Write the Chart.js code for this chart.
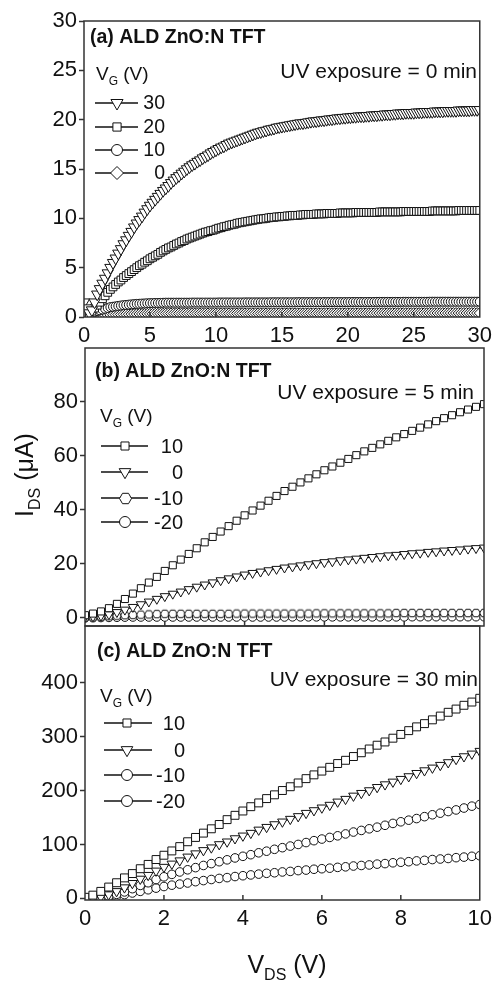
<!DOCTYPE html>
<html><head><meta charset="utf-8">
<script src="https://cdn.jsdelivr.net/npm/chart.js@4.4.0/dist/chart.umd.min.js"></script>
<style>
html,body{margin:0;padding:0;background:#fff;width:498px;height:984px;overflow:hidden;position:relative;}
canvas{position:absolute;left:0;}
</style></head><body>
<canvas id="ca" style="top:0px" width="498" height="346"></canvas>
<canvas id="cb" style="top:332px" width="498" height="310"></canvas>
<canvas id="cc" style="top:610px" width="498" height="374"></canvas>
<script>
// ---------- DATA ----------
// Panel (a): UV exposure = 0 min, VDS sweep 0..30 V (0.2 V step)
const vdsA = Array.from({length:151}, (_, i) => +(i * 0.2).toFixed(1));
const idsA_30 = [1.5,0.9,0.4,0.7,1.5,2.3,
2.85,3.4,3.9,4.45,5.0, 5.5,5.95,6.45,6.9,7.4, 7.8,8.25,8.65,9.1,9.5, 9.85,10.2,10.6,10.95,11.3,
11.6,11.9,12.2,12.5,12.8, 13.05,13.3,13.6,13.85,14.1, 14.3,14.55,14.75,15.0,15.2, 15.4,15.55,15.75,15.9,16.1,
16.25,16.4,16.6,16.75,16.9, 17.05,17.2,17.3,17.45,17.6, 17.7,17.8,17.9,18.0,18.1, 18.2,18.3,18.4,18.5,18.6,
18.7,18.75,18.85,18.9,19.0, 19.05,19.1,19.2,19.25,19.3, 19.35,19.4,19.45,19.5,19.55, 19.6,19.65,19.65,19.7,19.75,
19.8,19.85,19.85,19.9,19.95, 19.95,20.0,20.05,20.05,20.1, 20.15,20.15,20.2,20.2,20.25, 20.25,20.3,20.3,20.35,20.35,
20.35,20.4,20.4,20.45,20.45, 20.45,20.5,20.5,20.55,20.55, 20.55,20.6,20.6,20.65,20.65, 20.65,20.7,20.7,20.7,20.7,
20.75,20.75,20.75,20.8,20.8, 20.8,20.8,20.85,20.85,20.85, 20.85,20.9,20.9,20.9,20.9, 20.9,20.95,20.95,20.95,20.95,
20.95,21.0,21.0,21.0,21.0];
const idsA_20 = [0,0.15,0.35,0.6,0.9,1.2,
1.5,1.85,2.15,2.5,2.8, 3.05,3.3,3.55,3.75,4.0, 4.2,4.4,4.6,4.8,5.0, 5.2,5.35,5.55,5.7,5.9,
6.05,6.2,6.35,6.55,6.7, 6.85,7.0,7.1,7.25,7.4, 7.5,7.65,7.75,7.9,8.0, 8.1,8.2,8.3,8.4,8.5,
8.6,8.65,8.75,8.8,8.9, 9.0,9.05,9.15,9.2,9.3, 9.35,9.4,9.5,9.55,9.6, 9.65,9.7,9.75,9.8,9.85,
9.9,9.95,9.95,10.0,10.05, 10.1,10.1,10.15,10.15,10.2, 10.2,10.25,10.25,10.3,10.3, 10.3,10.35,10.35,10.4,10.4,
10.4,10.4,10.45,10.45,10.45, 10.45,10.5,10.5,10.5,10.5, 10.5,10.55,10.55,10.55,10.55, 10.55,10.55,10.6,10.6,10.6,
10.6,10.6,10.6,10.6,10.6, 10.6,10.65,10.65,10.65,10.65, 10.65,10.65,10.65,10.65,10.65, 10.7,10.7,10.7,10.7,10.7,
10.7,10.7,10.7,10.7,10.7, 10.7,10.75,10.75,10.75,10.75, 10.75,10.75,10.75,10.75,10.75, 10.75,10.8,10.8,10.8,10.8,
10.8,10.8,10.8,10.8,10.8];
const idsA_10 = [0,0.12,0.24,0.36,0.48,0.6,
0.68,0.76,0.84,0.92,1.0, 1.04,1.08,1.12,1.16,1.2, 1.22,1.25,1.28,1.3,1.33, 1.34,1.36,1.37,1.39,1.4, 1.41,1.42,1.42,1.43,1.44,
1.45,1.45,1.45,1.45,1.45,1.45,1.45,1.45,1.45,1.45, 1.46,1.46,1.46,1.46,1.46,1.46,1.46,1.46,1.46,1.46,
1.47,1.47,1.47,1.47,1.47,1.47,1.47,1.47,1.47,1.47, 1.48,1.48,1.48,1.48,1.48,1.48,1.48,1.48,1.48,1.48,
1.49,1.49,1.49,1.49,1.49,1.49,1.49,1.49,1.49,1.49, 1.50,1.50,1.50,1.50,1.50,1.50,1.50,1.50,1.50,1.50,
1.51,1.51,1.51,1.51,1.51,1.51,1.51,1.51,1.51,1.51, 1.52,1.52,1.52,1.52,1.52,1.52,1.52,1.52,1.52,1.52,
1.53,1.53,1.53,1.53,1.53,1.53,1.53,1.53,1.53,1.53, 1.54,1.54,1.54,1.54,1.54,1.54,1.54,1.54,1.54,1.54,
1.55,1.55,1.55,1.55,1.55,1.55,1.55,1.55,1.55,1.55, 1.55,1.55,1.55,1.55,1.55,1.55,1.55,1.55,1.55,1.55];
const idsA_0 = [0,0.03,0.05,0.08,0.1,0.13,
0.15,0.17,0.19,0.2,0.22, 0.23,0.24,0.25,0.26,0.27, 0.28,0.28,0.29,0.3,0.3,
0.31,0.31,0.31,0.32,0.32,0.32,0.33,0.33,0.34,0.34,
0.35,0.35,0.35,0.35,0.35,0.35,0.35,0.35,0.35,0.35,0.35,0.35,0.35,0.35,0.35,0.35,0.35,0.35,0.35,0.35,
0.36,0.36,0.36,0.36,0.36,0.36,0.36,0.36,0.36,0.36,0.36,0.36,0.36,0.36,0.36,0.36,0.36,0.36,0.36,0.36,
0.37,0.37,0.37,0.37,0.37,0.37,0.37,0.37,0.37,0.37,0.37,0.37,0.37,0.37,0.37,0.37,0.37,0.37,0.37,0.37,
0.38,0.38,0.38,0.38,0.38,0.38,0.38,0.38,0.38,0.38,0.38,0.38,0.38,0.38,0.38,0.38,0.38,0.38,0.38,0.38,
0.39,0.39,0.39,0.39,0.39,0.39,0.39,0.39,0.39,0.39,0.39,0.39,0.39,0.39,0.39,0.39,0.39,0.39,0.39,0.39,
0.40,0.40,0.40,0.40,0.40,0.40,0.40,0.40,0.40,0.40,0.40,0.40,0.40,0.40,0.40,0.40,0.40,0.40,0.40,0.40];

// Panels (b), (c): VDS sweep 0..10 V (0.2 V step)
const vdsBC = Array.from({length:51}, (_, i) => +(i * 0.2).toFixed(1));
// (b) UV exposure = 5 min
const idsB_10 = [1.0,1.6,2.4,3.6,5.2,7.0,9.0,11.0,13.1,15.2,17.4,19.5,21.6,23.7,25.8,28.0,30.0,32.0,34.0,36.0,38.0,39.8,41.6,43.4,45.2,47.0,48.6,50.2,51.7,53.2,54.7,56.1,57.5,58.9,60.3,61.7,63.0,64.3,65.6,66.9,68.1,69.3,70.5,71.7,72.9,74.0,75.1,76.2,77.2,78.2,79.2];
const idsB_0 = [0.3,0.5,0.8,1.3,2.1,3.0,4.0,5.0,6.0,7.0,8.0,8.9,9.7,10.6,11.5,12.3,13.1,13.9,14.6,15.3,16.0,16.6,17.1,17.6,18.1,18.6,19.0,19.4,19.8,20.2,20.6,20.9,21.3,21.6,21.9,22.2,22.5,22.8,23.1,23.3,23.6,23.9,24.1,24.4,24.6,24.9,25.1,25.3,25.6,25.8,26.0];
const idsB_m10 = [0,0.2,0.4,0.6,0.8,1.0,1.1,1.2,1.3,1.4,1.5,1.5,1.5,1.5,1.5,1.5,1.5,1.5,1.5,1.6,1.6,1.6,1.6,1.6,1.6,1.6,1.6,1.6,1.6,1.7,1.7,1.7,1.7,1.7,1.7,1.7,1.7,1.7,1.7,1.8,1.8,1.8,1.8,1.8,1.8,1.8,1.8,1.8,1.8,1.8,1.8];
const idsB_m20 = [0,0.05,0.1,0.15,0.2,0.25,0.3,0.3,0.3,0.3,0.3,0.3,0.3,0.3,0.3,0.3,0.3,0.3,0.3,0.3,0.3,0.3,0.3,0.3,0.3,0.3,0.35,0.35,0.35,0.35,0.35,0.35,0.35,0.35,0.35,0.35,0.35,0.35,0.35,0.35,0.35,0.4,0.4,0.4,0.4,0.4,0.4,0.4,0.4,0.4,0.4];
// (c) UV exposure = 30 min
const idsC_10 = [2,6,13,21,29,38,46,55,63,72,80,88,96,105,113,121,129,137,146,154,162,170,177,185,192,200,207,214,222,229,236,243,250,256,263,270,277,284,290,297,304,311,318,324,331,338,345,351,358,364,371];
const idsC_0 = [0,1,3,7,13,20,28,36,43,51,58,64,70,77,83,89,94,100,105,111,116,121,127,132,137,142,147,152,158,163,168,173,179,184,190,195,200,206,211,216,221,226,232,237,242,247,252,258,263,268,273];
const idsC_m10 = [0,0.5,1.5,4,7.5,12,18,24,29,35,40,44.5,49,53,57,61,64.5,68,71.5,75,78,81,84.5,87.5,91,94,97,100,103.5,107,110,113,116,119.5,123,126,129,132,135.5,139,142,145,148,151.5,155,158,161,164,167.5,171,174];
const idsC_m20 = [0,0.3,0.8,2,4,7,10,13,16,19,22,24.5,26.5,28.5,31,33,35,37,38.5,40.5,42,43.5,45,46.5,47.5,49,50,51.5,52.5,54,55,56,57.5,58.5,60,61,62,63.5,64.5,66,67,68,69.5,70.5,72,73,74,75.5,76.5,78,79];

// Legend labels (gate voltages)
const vgA = ['30','20','10','0'];
const vgB = ['10','0','-10','-20'];
const vgC = ['10','0','-10','-20'];

// Tick labels
const xTicksA = [0,5,10,15,20,25,30];
const yTicksA = [0,5,10,15,20,25,30];
const xTicksBC = [0,2,4,6,8,10];
const yTicksB = [0,20,40,60,80];
const yTicksC = [0,100,200,300,400];

// ---------- STYLE ----------
const FONT = "'Liberation Sans', Arial, Helvetica, sans-serif";
const INK = '#111';
const FRAME = '#333';
const TICK_FS = 22;

function hexMarker(r){
  const s = Math.ceil(2*r + 3);
  const c = document.createElement('canvas'); c.width = s; c.height = s;
  const g = c.getContext('2d');
  g.beginPath();
  for (let i = 0; i < 6; i++){
    const a = Math.PI/3*i;
    const px = s/2 + r*Math.cos(a), py = s/2 + r*Math.sin(a);
    if (i) g.lineTo(px, py); else g.moveTo(px, py);
  }
  g.closePath(); g.fillStyle = '#fff'; g.fill();
  g.lineWidth = 1; g.strokeStyle = INK; g.stroke();
  return c;
}

function drawMarker(ctx, m, x, y){
  if (m.style instanceof HTMLCanvasElement){
    ctx.drawImage(m.style, Math.round(x - m.style.width/2), Math.round(y - m.style.height/2));
    return;
  }
  ctx.save();
  ctx.fillStyle = '#fff'; ctx.strokeStyle = INK; ctx.lineWidth = 1;
  Chart.helpers.drawPoint(ctx, {pointStyle: m.style, radius: m.r, rotation: m.rot || 0, borderWidth: 1}, x, y);
  ctx.restore();
}

function series(label, xs, ys, m){
  return {
    label, data: xs.map((x, i) => ({x, y: ys[i]})),
    showLine: true, borderColor: INK, borderWidth: 1, tension: 0,
    pointStyle: m.style, pointRadius: m.r, pointRotation: m.rot || 0,
    pointBackgroundColor: '#fff', pointBorderColor: INK, pointBorderWidth: 1,
    pointHoverRadius: m.r
  };
}

function textWithSub(ctx, x, y, main, sub, rest, size, subSize, align){
  ctx.font = size + 'px ' + FONT;
  const w1 = ctx.measureText(main).width;
  ctx.font = subSize + 'px ' + FONT;
  const w2 = ctx.measureText(sub).width;
  ctx.font = size + 'px ' + FONT;
  const w3 = ctx.measureText(rest).width;
  let sx = x;
  if (align === 'center') sx = x - (w1 + w2 + w3)/2;
  ctx.textAlign = 'left'; ctx.textBaseline = 'alphabetic';
  ctx.fillText(main, sx, y);
  ctx.font = subSize + 'px ' + FONT;
  ctx.fillText(sub, sx + w1, y + size*0.28);
  ctx.font = size + 'px ' + FONT;
  ctx.fillText(rest, sx + w1 + w2, y);
}

function decoPlugin(cfg){
  return {
    id: 'deco',
    afterDraw(chart){
      const ctx = chart.ctx, a = chart.chartArea, T = cfg.top;
      ctx.save();
      // inner x ticks
      ctx.strokeStyle = FRAME; ctx.lineWidth = 1.5;
      cfg.innerX.forEach(v => {
        const px = chart.scales.x.getPixelForValue(v);
        ctx.beginPath(); ctx.moveTo(px, a.bottom); ctx.lineTo(px, a.bottom - 5); ctx.stroke();
      });
      // frame
      ctx.strokeRect(a.left, a.top, a.right - a.left, a.bottom - a.top);
      ctx.fillStyle = INK;
      // panel title
      ctx.font = 'bold 19.5px ' + FONT; ctx.textAlign = 'left'; ctx.textBaseline = 'middle';
      ctx.fillText(cfg.title, cfg.titleX, cfg.titleY - T);
      // UV exposure text
      ctx.font = '21px ' + FONT; ctx.textAlign = 'right';
      ctx.fillText(cfg.uv, cfg.uvX, cfg.uvY - T);
      // legend header V_G (V)
      textWithSub(ctx, cfg.lg.vgX, cfg.lg.vgY - T, 'V', 'G', ' (V)', 19, 12, 'left');
      // legend rows
      cfg.lg.items.forEach((it, i) => {
        const y = cfg.lg.rows[i] - T;
        ctx.strokeStyle = INK; ctx.lineWidth = 1.5;
        ctx.beginPath(); ctx.moveTo(cfg.lg.x1, y); ctx.lineTo(cfg.lg.x2, y); ctx.stroke();
        drawMarker(ctx, it.m, cfg.lg.mx, y);
        ctx.fillStyle = INK; ctx.font = cfg.lg.fs + 'px ' + FONT; ctx.textAlign = 'right'; ctx.textBaseline = 'middle';
        ctx.fillText(it.t, cfg.lg.lx, y + 1);
      });
      if (cfg.extra) cfg.extra(ctx, T);
      ctx.restore();
    }
  };
}

function makeChart(id, cfg){
  const el = document.getElementById(id);
  return new Chart(el, {
    type: 'scatter',
    data: {datasets: cfg.datasets},
    options: {
      responsive: false, animation: false, events: [],
      layout: {autoPadding: false, padding: {top: cfg.padTop, right: cfg.padRight, left: 0, bottom: 0}},
      plugins: {legend: {display: false}, tooltip: {enabled: false}},
      scales: {
        x: {
          type: 'linear', min: cfg.xMin, max: cfg.xMax,
          afterBuildTicks: s => { s.ticks = cfg.xTicks.map(v => ({value: v})); },
          afterFit: s => { s.height = cfg.xHeight; },
          grid: {display: false, drawTicks: false}, border: {display: false},
          ticks: {display: cfg.xLabels, font: {family: FONT, size: TICK_FS}, color: INK, padding: cfg.xPad, maxRotation: 0, autoSkip: false}
        },
        y: {
          type: 'linear', min: cfg.yMin, max: cfg.yMax,
          afterBuildTicks: s => { s.ticks = cfg.yTicks.map(v => ({value: v})); },
          afterFit: s => { s.width = cfg.yWidth; },
          grid: {display: true, drawOnChartArea: false, drawTicks: true, tickLength: 5, tickWidth: 1.5, tickColor: FRAME},
          border: {display: false},
          ticks: {font: {family: FONT, size: TICK_FS}, color: INK, padding: 2, autoSkip: false}
        }
      }
    },
    plugins: [decoPlugin(cfg.deco)]
  });
}

// markers
const mA = {
  tri: {style: 'triangle', r: 6.5, rot: 180},
  sq: {style: 'rect', r: 5.5},
  cir: {style: 'circle', r: 4.5},
  dia: {style: 'rectRot', r: 5.5}
};
const mAL = {
  tri: {style: 'triangle', r: 7, rot: 180},
  sq: {style: 'rect', r: 5.8},
  cir: {style: 'circle', r: 5.5},
  dia: {style: 'rectRot', r: 6.5}
};
const mB = {
  sq: {style: 'rect', r: 5},
  tri: {style: 'triangle', r: 5.3, rot: 180},
  hex: {style: hexMarker(4.3), r: 4.3},
  cir: {style: 'circle', r: 4.2}
};
const mBL = {
  sq: {style: 'rect', r: 5.7},
  tri: {style: 'triangle', r: 6.7, rot: 180},
  hex: {style: hexMarker(6), r: 6},
  cir: {style: 'circle', r: 5.5}
};
const mC = {
  sq: {style: 'rect', r: 5.6},
  tri: {style: 'triangle', r: 5.5, rot: 180},
  cir: {style: 'circle', r: 4.3}
};
const mCL = {
  sq: {style: 'rect', r: 5.7},
  tri: {style: 'triangle', r: 6.7, rot: 180},
  cir: {style: 'circle', r: 5.5}
};

// ---------- CHART (a) ----------
makeChart('ca', {
  datasets: [
    series(vgA[0], vdsA, idsA_30, mA.tri),
    series(vgA[1], vdsA, idsA_20, mA.sq),
    series(vgA[2], vdsA, idsA_10, mA.cir),
    series(vgA[3], vdsA, idsA_0, mA.dia)
  ],
  padTop: 21, padRight: 16, xHeight: 29, yWidth: 84, xPad: 6, xLabels: true,
  xMin: 0, xMax: 30, yMin: 0, yMax: 30, xTicks: xTicksA, yTicks: yTicksA,
  deco: {
    top: 0, innerX: xTicksA.slice(1, -1),
    title: '(a) ALD ZnO:N TFT', titleX: 90, titleY: 38,
    uv: 'UV exposure = 0 min', uvX: 477, uvY: 72,
    lg: {vgX: 96, vgY: 80, rows: [103, 127, 150, 173], x1: 95, x2: 138, mx: 117, lx: 165, fs: 19.5,
      items: [{m: mAL.tri, t: vgA[0]}, {m: mAL.sq, t: vgA[1]}, {m: mAL.cir, t: vgA[2]}, {m: mAL.dia, t: vgA[3]}]}
  }
});

// ---------- CHART (b) ----------
makeChart('cb', {
  datasets: [
    series(vgB[0], vdsBC, idsB_10, mB.sq),
    series(vgB[1], vdsBC, idsB_0, mB.tri),
    series(vgB[2], vdsBC, idsB_m10, mB.hex),
    series(vgB[3], vdsBC, idsB_m20, mB.cir)
  ],
  padTop: 16, padRight: 14, xHeight: 16, yWidth: 85, xPad: 0, xLabels: false,
  xMin: 0, xMax: 10, yMin: -3, yMax: 100, xTicks: xTicksBC, yTicks: yTicksB,
  deco: {
    top: 332, innerX: xTicksBC.slice(1, -1),
    title: '(b) ALD ZnO:N TFT', titleX: 95, titleY: 372,
    uv: 'UV exposure = 5 min', uvX: 474, uvY: 393,
    lg: {vgX: 100, vgY: 422, rows: [446, 472, 498, 522], x1: 101, x2: 148, mx: 125, lx: 183, fs: 20,
      items: [{m: mBL.sq, t: vgB[0]}, {m: mBL.tri, t: vgB[1]}, {m: mBL.hex, t: vgB[2]}, {m: mBL.cir, t: vgB[3]}]},
    extra: (ctx, T) => {
      ctx.save();
      ctx.translate(33, 475 - T);
      ctx.rotate(-Math.PI/2);
      ctx.fillStyle = INK;
      textWithSub(ctx, 0, 0, 'I', 'DS', ' (\u03bcA)', 25, 16, 'center');
      ctx.restore();
    }
  }
});

// ---------- CHART (c) ----------
makeChart('cc', {
  datasets: [
    series(vgC[0], vdsBC, idsC_10, mC.sq),
    series(vgC[1], vdsBC, idsC_0, mC.tri),
    series(vgC[2], vdsBC, idsC_m10, mC.cir),
    series(vgC[3], vdsBC, idsC_m20, mC.cir)
  ],
  padTop: 16, padRight: 14, xHeight: 84, yWidth: 85, xPad: 6, xLabels: true,
  xMin: 0, xMax: 10, yMin: -3, yMax: 505, xTicks: xTicksBC, yTicks: yTicksC,
  deco: {
    top: 610, innerX: xTicksBC.slice(1, -1),
    title: '(c) ALD ZnO:N TFT', titleX: 97, titleY: 652,
    uv: 'UV exposure = 30 min', uvX: 478, uvY: 680,
    lg: {vgX: 100, vgY: 702, rows: [723, 750, 775, 801], x1: 104, x2: 152, mx: 127, lx: 185, fs: 20,
      items: [{m: mCL.sq, t: vgC[0]}, {m: mCL.tri, t: vgC[1]}, {m: mCL.cir, t: vgC[2]}, {m: mCL.cir, t: vgC[3]}]},
    extra: (ctx, T) => {
      ctx.fillStyle = INK;
      textWithSub(ctx, 287, 973 - T, 'V', 'DS', ' (V)', 25, 16, 'center');
    }
  }
});
</script>
</body></html>
